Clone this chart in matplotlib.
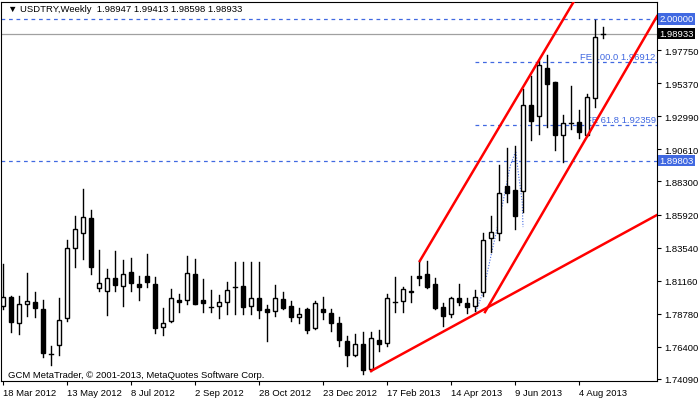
import matplotlib
matplotlib.use("Agg")
import matplotlib.pyplot as plt
from matplotlib.patches import Rectangle
import numpy as np

plt.rcParams['font.family'] = ['Liberation Sans', 'DejaVu Sans']

opens = [1.7934,1.7998,1.7811,1.7948,1.7962,1.7912,1.7588,1.7653,1.7847,1.8351,1.8459,1.8567,1.8063,1.8042,1.8135,1.8078,
         1.8178,1.8092,1.8150,1.8092,1.7782,1.7826,1.7977,1.7977,1.8164,1.7977,1.7926,1.7934,1.7962,1.8070,1.8078,1.7934,
         1.7991,1.7912,1.7898,1.7984,1.7934,1.7854,1.7912,1.7775,1.7912,1.7883,1.7811,1.7682,1.7580,1.7660,1.7480,1.7689,
         1.7668,1.7962,1.7970,1.8034,1.8150,1.8164,1.8092,1.7926,1.7876,1.7991,1.7955,1.7934,1.8034,1.8423,1.8459,1.8798,
         1.8769,1.8762,1.9381,1.9302,1.9647,1.9546,1.9165,1.9251,1.9258,1.9165,1.9431,1.98947]
highs = [1.8236,1.8006,1.8006,1.8171,1.8034,1.7977,1.7646,1.7991,1.8409,1.8582,1.8776,1.8625,1.8337,1.8200,1.8330,1.8265,
         1.8279,1.8150,1.8308,1.8142,1.7919,1.8056,1.8020,1.8294,1.8272,1.8128,1.8049,1.8013,1.8106,1.8250,1.8250,1.8250,
         1.8250,1.7941,1.8085,1.8034,1.7970,1.7919,1.7919,1.7970,1.7998,1.7912,1.7854,1.7718,1.7732,1.7746,1.7746,1.7761,
         1.8020,1.8142,1.8070,1.8150,1.8258,1.8258,1.8135,1.7955,1.7998,1.8092,1.7991,1.8049,1.8459,1.8582,1.8949,1.9071,
         1.9086,1.9496,1.9590,1.9698,1.9741,1.9546,1.9309,1.9518,1.9345,1.9460,1.9993,1.99413]
lows = [1.7912,1.7746,1.7732,1.7862,1.7854,1.7566,1.7509,1.7580,1.7826,1.8214,1.8272,1.8164,1.8042,1.7869,1.8042,1.7934,
        1.8042,1.7977,1.8070,1.7739,1.7725,1.7818,1.7890,1.7948,1.7948,1.7890,1.7890,1.7847,1.7876,1.7876,1.7876,1.7876,
        1.7847,1.7682,1.7862,1.7912,1.7826,1.7811,1.7739,1.7768,1.7840,1.7754,1.7646,1.7502,1.7574,1.7444,1.7466,1.7610,
        1.7646,1.7890,1.7890,1.7962,1.8085,1.8063,1.7912,1.7790,1.7854,1.7941,1.7883,1.7898,1.8006,1.8322,1.8409,1.8682,
        1.8488,1.8610,1.9129,1.9172,1.9222,1.9057,1.8970,1.9208,1.9143,1.9158,1.9366,1.98598]
closes = [1.7998,1.7818,1.7948,1.7970,1.7919,1.7596,1.7590,1.7833,1.8351,1.8488,1.8574,1.8214,1.8099,1.8135,1.8085,1.8164,
          1.8099,1.8070,1.8106,1.7775,1.7811,1.7991,1.7962,1.8171,1.7948,1.7955,1.7930,1.7962,1.8049,1.8073,1.7926,1.7991,
          1.7905,1.7890,1.7991,1.7919,1.7854,1.7876,1.7761,1.7955,1.7890,1.7811,1.7689,1.7580,1.7660,1.7473,1.7703,1.7660,
          1.7991,1.7965,1.8056,1.8042,1.8135,1.8070,1.7919,1.7862,1.7991,1.7962,1.7926,1.7998,1.8409,1.8466,1.8747,1.8747,
          1.8582,1.9381,1.9266,1.9669,1.9532,1.9165,1.9251,1.9255,1.9186,1.9438,1.9870,1.98933]

date_labels = ["18 Mar 2012","13 May 2012","8 Jul 2012","2 Sep 2012","28 Oct 2012","23 Dec 2012",
               "17 Feb 2013","14 Apr 2013","9 Jun 2013","4 Aug 2013"]
date_idx = [0,8,16,24,32,40,48,56,64,72]
ytick_vals = [1.74090,1.76400,1.78780,1.81160,1.83540,1.85920,1.88300,1.90610,1.92990,1.95370,1.97750]

# trendlines (index, price)
lower_line = ([46, 81.75], [1.7466, 1.8589])
mid_line = ([60.25, 81.75], [1.7890, 2.0020])
upper_line = ([52.1, 71.4], [1.8258, 2.0130])
fibo_x = [59, 60, 61.1, 62.4, 63.4, 64.1, 64.4, 64.9, 65]
fibo_y = [1.7876, 1.8034, 1.8322, 1.8654, 1.8942, 1.9050, 1.8898, 1.8682, 1.8502]
fe_levels = [("FE 100.0 1.96912", 1.96912), ("FE 61.8 1.92359", 1.92359)]
hlines_blue = [2.00000, 1.89803]
last_price = 1.98933

BLUE = "#4169e1"
FS = 6.8
fig = plt.figure(figsize=(7, 4.02), dpi=100)
ax = fig.add_axes([1/700, 20/402, 656/700, 379/402])
ax.set_xlim(-0.25, 81.75)
ax.set_ylim(1.7394, 2.0122)

w = 0.6
for i, (o, h, l, c) in enumerate(zip(opens, highs, lows, closes)):
    ax.plot([i, i], [l, h], color="black", lw=1, zorder=3)
    lo, hi = min(o, c), max(o, c)
    if abs(hi - lo) < 0.0004:
        ax.plot([i - w/2, i + w/2], [o, o], color="black", lw=1, zorder=4)
    else:
        ax.add_patch(Rectangle((i - w/2, lo), w, hi - lo, facecolor="black" if c < o else "white",
                               edgecolor="black", lw=1, zorder=4))

for y in hlines_blue:
    ax.axhline(y, color=BLUE, lw=0.9, ls=(0, (3, 3)), zorder=1)
ax.axhline(last_price, color="#a0a0a0", lw=0.9, zorder=1)
for txt, y in fe_levels:
    ax.plot([59, 81.75], [y, y], color=BLUE, lw=0.9, ls=(0, (3, 3)), zorder=1)
    ax.text(81.6, y + 0.0008, txt, color=BLUE, fontsize=FS, ha="right", va="bottom", zorder=2)
ax.plot(fibo_x, fibo_y, color=BLUE, lw=0.8, ls=(0, (1, 1.5)), zorder=2)
for xs, ys in (lower_line, mid_line, upper_line):
    ax.plot(xs, ys, color="red", lw=1.8, zorder=5, clip_on=True)

ax.yaxis.tick_right()
ax.set_yticks(ytick_vals)
ax.set_yticklabels([f"{v:.5f}" for v in ytick_vals], fontsize=FS)
ax.tick_params(axis="y", length=3, pad=2)
ax.set_xticks(date_idx)
ax.set_xticklabels(date_labels, fontsize=FS, ha="left")
ax.tick_params(axis="x", length=3, pad=2)
for s in ax.spines.values():
    s.set_linewidth(0.8)

for y, col in ((2.00000, BLUE), (last_price, "black"), (1.89803, BLUE)):
    ax.text(1.004, y, f"{y:.5f}", transform=ax.get_yaxis_transform(), fontsize=FS, color="white",
            va="center", ha="left", bbox=dict(boxstyle="square,pad=0.12", fc=col, ec="none"))

ax.text(0.01, 0.995, "\u25bc USDTRY,Weekly  1.98947 1.99413 1.98598 1.98933", transform=ax.transAxes,
        fontsize=FS, va="top", ha="left")
ax.text(0.01, 0.005, "GCM MetaTrader, \u00a9 2001-2013, MetaQuotes Software Corp.", transform=ax.transAxes,
        fontsize=FS, va="bottom", ha="left")

fig.savefig("out.png", dpi=100)
